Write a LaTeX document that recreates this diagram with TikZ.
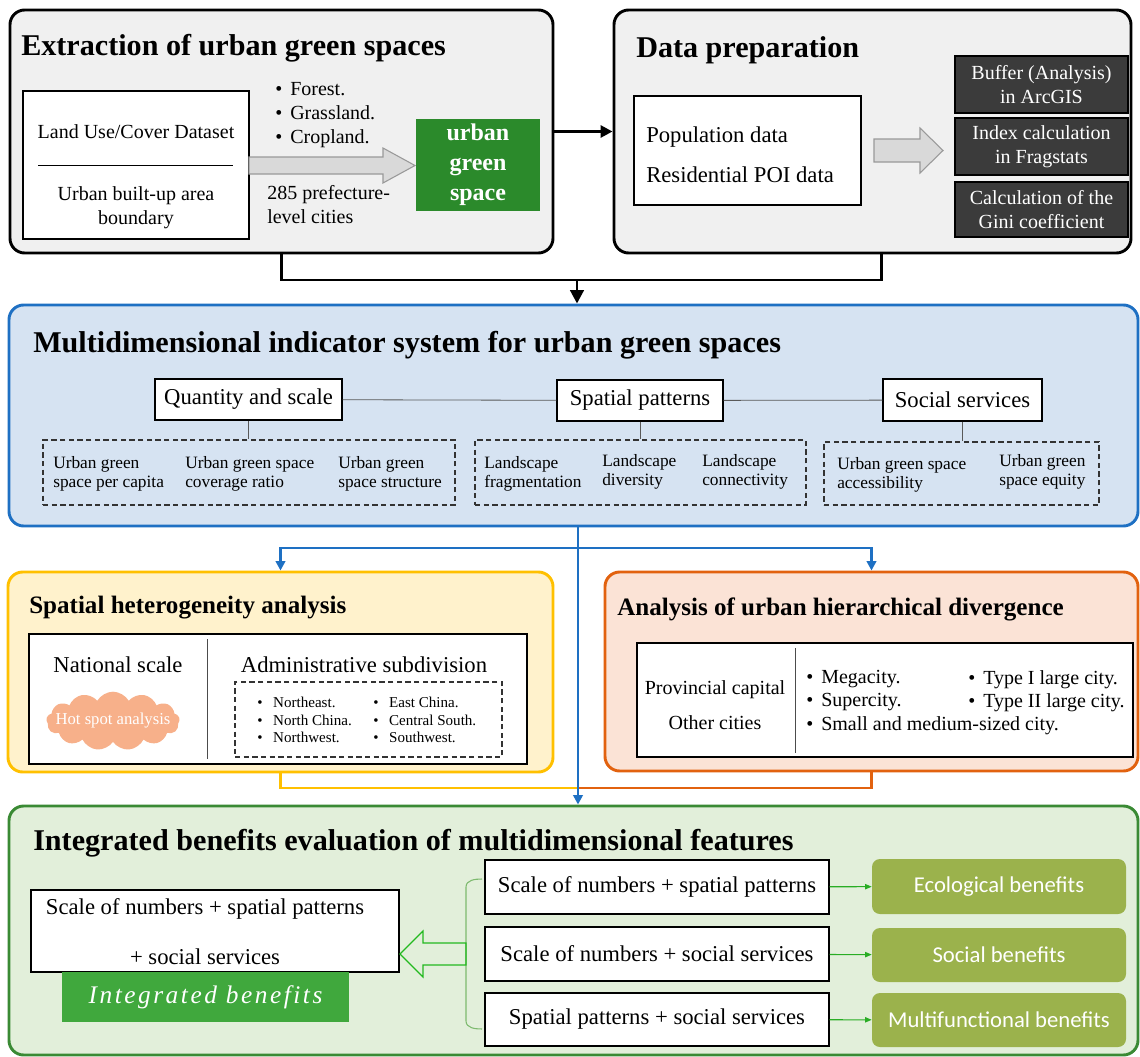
\documentclass[tikz,border=0pt]{standalone}
\usepackage{fontspec}
\setmainfont{Liberation Serif}
\newfontfamily\calibri{Carlito}
\newfontfamily\benefitit{Liberation Serif}[LetterSpace=10]
\usetikzlibrary{fit,arrows.meta,shapes.symbols}

\definecolor{panelgray}{HTML}{F0F0F0}
\definecolor{multifill}{HTML}{D6E3F2}
\definecolor{bluedraw}{HTML}{1E70C3}
\definecolor{spatfill}{HTML}{FFF2CC}
\definecolor{spatdraw}{HTML}{FFC000}
\definecolor{hierfill}{HTML}{FBE3D6}
\definecolor{hierdraw}{HTML}{E2620F}
\definecolor{integfill}{HTML}{E2EFDA}
\definecolor{integdraw}{HTML}{3A8A34}
\definecolor{ugsgreen}{HTML}{2B8A2B}
\definecolor{ibgreen}{HTML}{40A83D}
\definecolor{benefitgreen}{HTML}{9BB24C}
\definecolor{toolgray}{HTML}{3B3B3B}
\definecolor{arrowgray}{HTML}{D9D9D9}
\definecolor{hotspotfill}{HTML}{F7B08A}
\definecolor{bracketgreen}{HTML}{7DBA6E}

\tikzset{
  panel/.style={rounded corners=11pt, line width=2.2pt, inner sep=0pt},
  heading/.style={anchor=base west, inner sep=0pt, font=\fontsize{22.6}{27}\selectfont\bfseries},
  subheading/.style={anchor=base west, inner sep=0pt, font=\fontsize{18.8}{22}\selectfont\bfseries},
  whitebox/.style={draw, fill=white, line width=0.9pt, inner sep=0pt},
  dashbox/.style={draw=black!80, dash pattern=on 4pt off 2.5pt, line width=0.9pt, inner sep=0pt},
  toolbox/.style={draw=black, fill=toolgray, line width=0.8pt, inner sep=0pt},
  tooltxt/.style={inner sep=0pt, text=white, align=center, font=\fontsize{15}{18}\selectfont},
  txt/.style={inner sep=0pt, font=\fontsize{15}{18}\selectfont},
  midtxt/.style={inner sep=0pt, font=\fontsize{17}{20}\selectfont},
  smalltxt/.style={inner sep=0pt, anchor=west, align=left, font=\fontsize{13}{14.5}\selectfont},
  fatarrow/.style={draw=black!40, fill=arrowgray, line width=0.8pt},
  benefitbox/.style={fill=benefitgreen, rounded corners=6pt, inner sep=0pt},
  benefittxt/.style={inner sep=0pt, text=white, font=\calibri\fontsize{17}{20}\selectfont},
  blackflow/.style={line width=2.2pt},
  blueflow/.style={line width=2pt, draw=bluedraw},
  bigtri/.style={-{Triangle[length=9pt,width=9pt]}},
  smalltri/.style={-{Triangle[length=7pt,width=7pt]}},
  greenflow/.style={draw=integdraw!70!green, line width=0.8pt, -{Triangle[length=5pt,width=4pt]}}
}

\begin{document}
\begin{tikzpicture}[x=0.75pt, y=-0.75pt]
\useasboundingbox (0,0) rectangle (1140,1057);
\fill[white] (0,0) rectangle (1140,1057);

% extraction of urban green spaces
\node[panel, draw=black, fill=panelgray, fit={(10,10) (553,253)}] (ext) {};
\node[heading] (exttitle) at (21,55) {Extraction of urban green spaces};
\node[whitebox, fit={(23,91) (249,239)}] (luc) {};
\draw[line width=0.6pt] (38,165) -- (233,165);
\node[txt] (lucname) at (136,132) {Land Use/Cover Dataset};
\node[txt, align=center] (builtup) at (136,208) {Urban built-up area\\boundary};
\node[txt, anchor=west, align=left] (landtypes) at (275,115) {\textbullet\hspace{6pt}Forest.\\\textbullet\hspace{6pt}Grassland.\\\textbullet\hspace{6pt}Cropland.};
\node[txt, anchor=west, align=left] (cities) at (267,204.5) {285 prefecture-\\level cities};
\draw[fatarrow] (249,157) -- (383,157) -- (383,148) -- (415,165.5) -- (383,183) -- (383,174) -- (249,174) -- cycle;
\node[fill=ugsgreen, inner sep=0pt, fit={(416,119) (540,211)}] (ugs) {};
\node[inner sep=0pt, text=white, align=center, font=\fontsize{18}{22.5}\selectfont\bfseries] at (ugs) {urban\\green\\space};

% data preparation
\node[panel, draw=black, fill=panelgray, fit={(614,10) (1131,253)}] (prep) {};
\node[heading] (preptitle) at (636,57) {Data preparation};
\node[whitebox, fit={(634,96) (861,205)}] (popbox) {};
\node[inner sep=0pt, anchor=west, align=left, font=\fontsize{17}{30}\selectfont] (popdata) at (646,154.5) {Population data\\Residential POI data};
\draw[fatarrow] (874,139) -- (920,139) -- (920,128) -- (943,150.5) -- (920,173) -- (920,162) -- (874,162) -- cycle;
\node[toolbox, fit={(955,56) (1128,113)}] (buffer) {};
\node[toolbox, fit={(955,118) (1128,175)}] (fragstats) {};
\node[toolbox, fit={(955,182) (1128,237)}] (gini) {};
\node[tooltxt] at (buffer) {Buffer (Analysis)\\in ArcGIS};
\node[tooltxt] at (fragstats) {Index calculation\\in Fragstats};
\node[tooltxt] at (gini) {Calculation of the\\Gini coefficient};

% multidimensional indicator system
\node[panel, draw=bluedraw, fill=multifill, fit={(9,305) (1138,526)}] (multi) {};
\node[heading] (multititle) at (33,352) {Multidimensional indicator system for urban green spaces};
\node[whitebox, fit={(155,379) (342,420)}] (quantity) {};
\node[whitebox, fit={(557,380) (723,421)}] (pattern) {};
\node[whitebox, fit={(883,379) (1042,421)}] (service) {};
\node[midtxt] at (quantity) {Quantity and scale};
\node[midtxt] at (pattern) {Spatial patterns};
\node[midtxt] at (service) {Social services};
\node[dashbox, fit={(43,440) (455,505)}] (quantityset) {};
\node[dashbox, fit={(475,440) (806,505)}] (patternset) {};
\node[dashbox, fit={(824,442) (1099,505)}] (serviceset) {};
\node[smalltxt] (percapita) at (53,474) {Urban green\\space per capita};
\node[smalltxt] (coverage) at (185,474) {Urban green space\\coverage ratio};
\node[smalltxt] (structure) at (338,474) {Urban green\\space structure};
\node[smalltxt] (fragment) at (484,474) {Landscape\\fragmentation};
\node[smalltxt] (diversity) at (602,472) {Landscape\\diversity};
\node[smalltxt] (connect) at (702,472) {Landscape\\connectivity};
\node[smalltxt] (access) at (837,475) {Urban green space\\accessibility};
\node[smalltxt] (equity) at (999,472) {Urban green\\space equity};
\draw[black!65, line width=0.6pt] (quantity) -- (pattern) -- (service);
\draw[black!65, line width=0.6pt] (quantity) -- (quantity |- quantityset.north);
\draw[black!65, line width=0.6pt] (pattern) -- (pattern |- patternset.north);
\draw[black!65, line width=0.6pt] (service) -- (service |- serviceset.north);

% spatial heterogeneity analysis
\node[panel, draw=spatdraw, fill=spatfill, fit={(8,572) (553,772)}] (spat) {};
\node[subheading] (spattitle) at (29,613) {Spatial heterogeneity analysis};
\node[whitebox, fit={(29,634) (527,764)}] (scalebox) {};
\draw[black!70, line width=0.6pt] (207,639) -- (207,759);
\node[midtxt] (national) at (118,665) {National scale};
\node[cloud, cloud puffs=13, cloud puff arc=120, aspect=2.3, fill=hotspotfill, inner sep=0pt,
      minimum width=100pt, minimum height=44pt] (hsa) at (113,721) {};
\node[inner sep=0pt, text=white, font=\fontsize{12.5}{15}\selectfont] at (hsa) {Hot spot analysis};
\node[midtxt] (admin) at (364,665) {Administrative subdivision};
\node[dashbox, fit={(235,682) (502,757)}] (regionset) {};
\node[inner sep=0pt, anchor=west, align=left, font=\fontsize{11.3}{13.2}\selectfont] (regions1) at (257,720)
  {\textbullet\hspace{8pt}Northeast.\\\textbullet\hspace{8pt}North China.\\\textbullet\hspace{8pt}Northwest.};
\node[inner sep=0pt, anchor=west, align=left, font=\fontsize{11.3}{13.2}\selectfont] (regions2) at (373,720)
  {\textbullet\hspace{8pt}East China.\\\textbullet\hspace{8pt}Central South.\\\textbullet\hspace{8pt}Southwest.};

% analysis of urban hierarchical divergence
\node[panel, draw=hierdraw, fill=hierfill, fit={(605,572) (1138,771)}] (hier) {};
\node[subheading] (hiertitle) at (617,615) {Analysis of urban hierarchical divergence};
\node[whitebox, fit={(637,643) (1133,757)}] (citybox) {};
\draw[black!70, line width=0.6pt] (795,648) -- (795,753);
\node[txt] (capital) at (715,689.5) {Provincial capital};
\node[txt] (others) at (715,722.5) {Other cities};
\node[txt, anchor=west, align=left, font=\fontsize{15}{17.6}\selectfont] (sizes1) at (806,702.5)
  {\textbullet\hspace{6pt}Megacity.\\\textbullet\hspace{6pt}Supercity.\\\textbullet\hspace{6pt}Small and medium-sized city.};
\node[txt, anchor=west, align=left, font=\fontsize{15}{17.6}\selectfont] (sizes2) at (968,691)
  {\textbullet\hspace{6pt}Type I large city.\\\textbullet\hspace{6pt}Type II large city.};

% integrated benefits evaluation
\node[panel, draw=integdraw, fill=integfill, fit={(9,806) (1138,1055)}] (integ) {};
\node[heading] (integtitle) at (33,850) {Integrated benefits evaluation of multidimensional features};
\node[whitebox, fit={(31,890) (399,972)}] (allbox) {};
\node[inner sep=0pt, align=center, font=\fontsize{17}{37.5}\selectfont] (alltxt) at (205,931.5)
  {Scale of numbers + spatial patterns\\+ social services};
\node[fill=ibgreen, inner sep=0pt, fit={(62,972) (349,1022)}] (ib) {};
\node[inner sep=0pt, text=white, font=\benefitit\itshape\fontsize{19}{22}\selectfont] at (ib) {Integrated benefits};
\node[whitebox, fit={(485,860) (829,914)}] (combo1) {};
\node[whitebox, fit={(485,927) (829,981)}] (combo2) {};
\node[whitebox, fit={(485,993) (829,1046)}] (combo3) {};
\node[midtxt] at (combo1) {Scale of numbers + spatial patterns};
\node[midtxt] at (combo2) {Scale of numbers + social services};
\node[midtxt] at (combo3) {Spatial patterns + social services};
\node[benefitbox, fit={(872,859) (1126,914)}] (eco) {};
\node[benefitbox, fit={(872,928) (1126,982)}] (soc) {};
\node[benefitbox, fit={(872,993) (1126,1047)}] (multif) {};
\node[benefittxt] at (eco) {Ecological benefits};
\node[benefittxt] at (soc) {Social benefits};
\node[benefittxt] at (multif) {Multifunctional benefits};
\draw[bracketgreen, line width=0.8pt] (482,879) to[out=180,in=90] (466,887) -- (466,1021) to[out=-90,in=180] (482,1029);
\draw[integdraw!60!green, line width=0.9pt] (400,954) -- (423,931) -- (423,943) -- (466,943) -- (466,965) -- (423,965) -- (423,977) -- cycle;
\draw[greenflow] (combo1) -- (eco);
\draw[greenflow] (combo2) -- (soc);
\draw[greenflow] (combo3) -- (multif);

% flow between the panels
\draw[blackflow, bigtri] (ext) -- (prep);
\coordinate (merge) at (577,280);
\draw[blackflow] (ext.south) |- (merge) -| ([xshift=6.5pt]prep.south);
\draw[blackflow, -{Triangle[length=10pt,width=10pt]}] (merge) -- (merge |- multi.north);
\coordinate (split) at (578,548);
\coordinate (join) at (578,788);
\draw[blueflow] (multi.south -| split) -- (split);
\draw[blueflow, smalltri] (split) -| (spat.north);
\draw[blueflow, smalltri] (split) -| (hier.north);
\draw[line width=2pt, draw=spatdraw] (spat.south) |- (join);
\draw[line width=2pt, draw=hierdraw] (hier.south) |- (join);
\draw[blueflow, smalltri] (split) -- (split |- integ.north);
\end{tikzpicture}
\end{document}
